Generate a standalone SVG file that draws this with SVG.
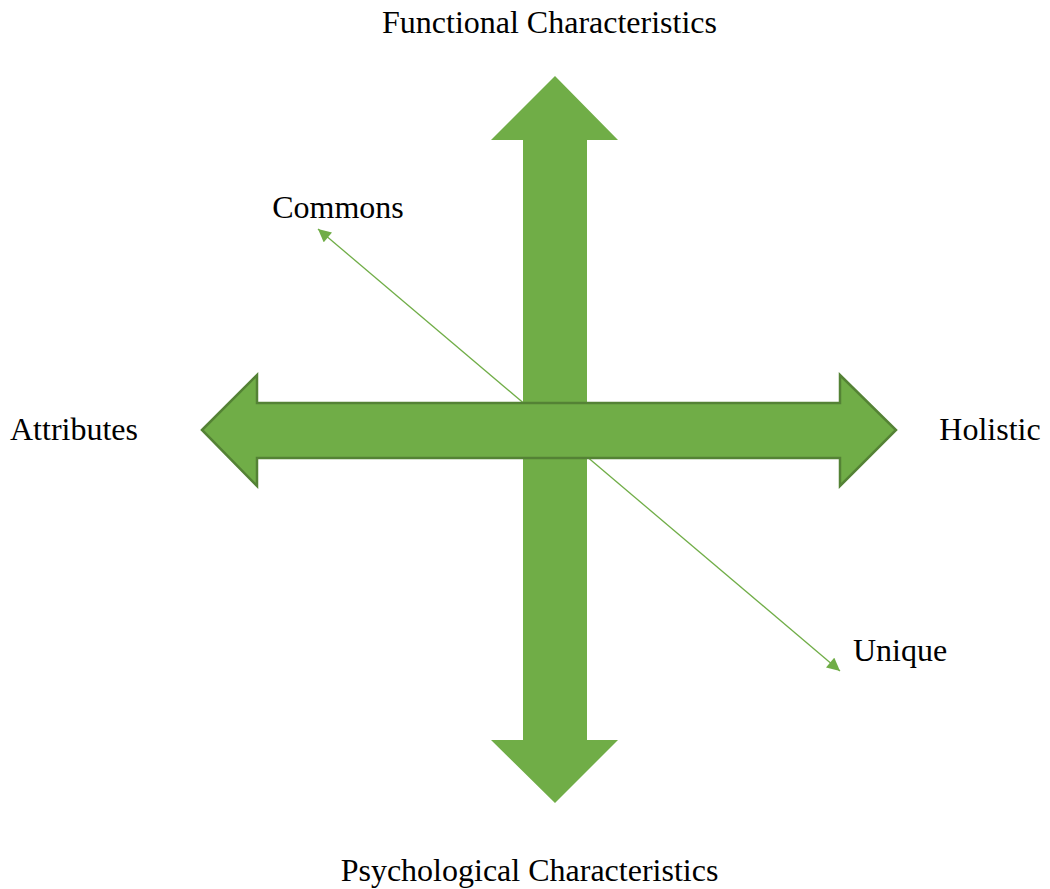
<svg xmlns="http://www.w3.org/2000/svg" width="1050" height="889" viewBox="0 0 1050 889">
<style>
.lbl{font-family:"Liberation Serif","Times New Roman",serif;font-size:32px;fill:#000;text-anchor:middle}
.big{fill:#70AD47}
.hz{fill:#70AD47;stroke:#548235;stroke-width:2.5;stroke-linejoin:miter}
.diag{stroke:#70AD47;stroke-width:1.3;fill:none}
</style>
<defs>
<marker id="ah" viewBox="0 0 10 10" refX="10" refY="5" markerWidth="14" markerHeight="13" markerUnits="userSpaceOnUse" orient="auto-start-reverse">
<path d="M0,0 L10,5 L0,10 Z" fill="#70AD47"/>
</marker>
</defs>
<g id="connectors">
<line class="diag" x1="318" y1="229" x2="840" y2="671" marker-start="url(#ah)" marker-end="url(#ah)"/>
</g>
<g id="vertical-arrow">
<polygon class="big" points="555,76 618,140 587,140 587,740 618,740 555,803 491,740 523,740 523,140 491,140"/>
</g>
<g id="horizontal-arrow">
<polygon class="hz" points="202,430 257,375 257,403 840,403 840,375 896,430 840,486 840,458 257,458 257,486"/>
</g>
<g id="functional"><text class="lbl" x="549.5" y="33">Functional Characteristics</text></g>
<g id="commons"><text class="lbl" x="338" y="218">Commons</text></g>
<g id="attributes"><text class="lbl" x="74" y="440">Attributes</text></g>
<g id="holistic"><text class="lbl" x="990" y="440">Holistic</text></g>
<g id="unique"><text class="lbl" x="900" y="661">Unique</text></g>
<g id="psychological"><text class="lbl" x="529.5" y="881">Psychological Characteristics</text></g>
</svg>
